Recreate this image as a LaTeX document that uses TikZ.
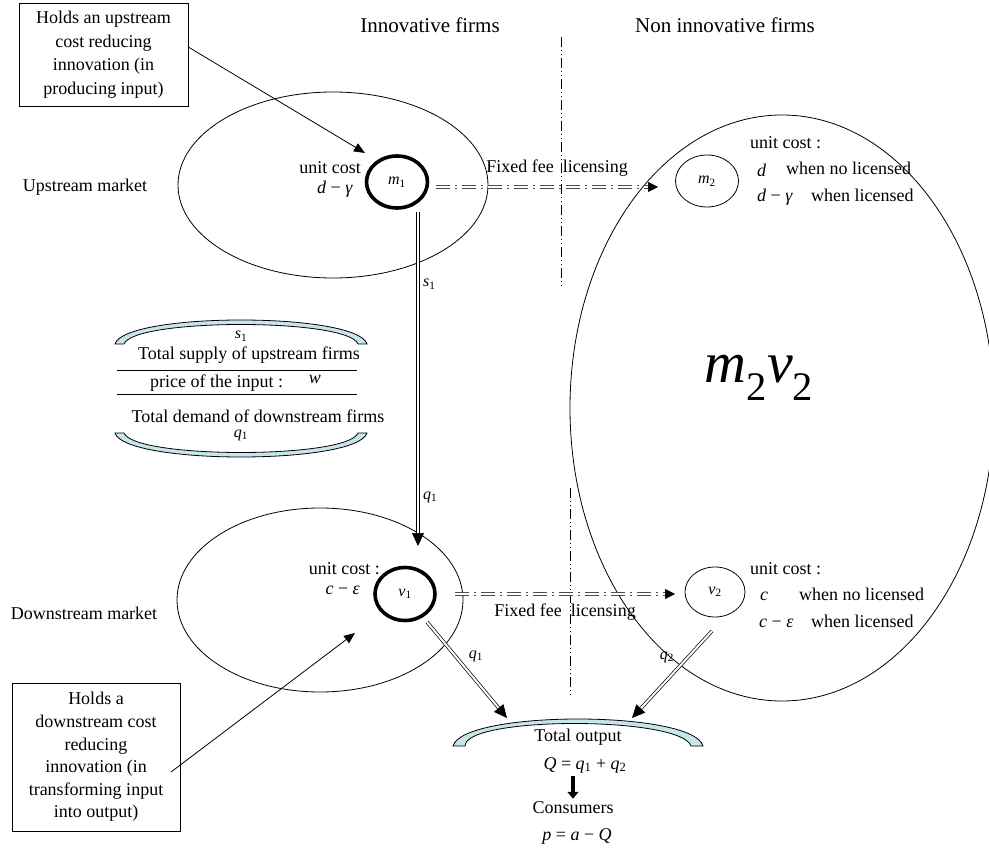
\documentclass[tikz,border=0pt]{standalone}
\usepackage{fontspec}
\setmainfont{Liberation Serif}
\usetikzlibrary{arrows.meta,calc,shapes.geometric}

\definecolor{bandfill}{RGB}{198,230,234}
\definecolor{licink}{gray}{0.3}

% italic variable and lowered index
\newcommand{\mv}[1]{\textit{#1}}
\newcommand{\lo}[1]{\textsubscript{#1}}

\begin{document}
\begin{tikzpicture}[x=1pt,y=-1pt,
  every node/.style={font=\fontsize{18}{22}\selectfont, inner sep=0pt},
  title/.style={font=\fontsize{21}{24}\selectfont},
  small/.style={font=\fontsize{16}{18}\selectfont},
  market/.style={draw, ellipse, line width=0.8pt},
  firm/.style={draw, ellipse, line width=0.8pt},
  innofirm/.style={draw, ellipse, line width=3.6pt},
  notebox/.style={draw, line width=0.8pt, align=center,
                  font=\fontsize{18}{23.5}\selectfont},
  pointer/.style={line width=0.8pt, -{Triangle[length=11pt,width=9pt]}},
  flowline/.style={double, double distance=2pt, line width=0.7pt},
  licline/.style={double, double distance=2pt, line width=0.7pt, draw=licink,
                  dash pattern=on 14pt off 5pt on 2pt off 5pt},
  headtip/.style={-{Triangle[length=13pt,width=12pt]}, line width=0.7pt},
  smalltip/.style={-{Triangle[length=10pt,width=10pt]}, line width=0.7pt},
  divider/.style={line width=0.6pt,
                  dash pattern=on 10pt off 3pt on 1pt off 3pt on 1pt off 3pt},
  band/.style={draw, fill=bandfill, line width=0.8pt},
  bigdown/.style={line width=3.5pt, -{Triangle[length=7pt,width=11pt]}},
]
\useasboundingbox (0,0) rectangle (989,850);

% ---------- column titles and dividers ----------
\node[title] (tInno) at (430,25) {Innovative firms};
\node[title] (tNon)  at (725,25) {Non innovative firms};
\coordinate (dvA1) at (561,37);  \coordinate (dvA2) at (561,288);
\coordinate (dvB1) at (570,488); \coordinate (dvB2) at (570,697);
\draw[divider] (dvA1) -- (dvA2);
\draw[divider] (dvB1) -- (dvB2);

% ---------- markets ----------
\node[market, minimum width=310pt, minimum height=186pt] (up)   at (333,185) {};
\node[market, minimum width=286pt, minimum height=184pt] (down) at (320,600) {};
\node[market, minimum width=424pt, minimum height=586pt] (nonInno) at (782,408) {};
\node (lblUp)   at (85,187) {Upstream market};
\node (lblDown) at (84,613) {Downstream market};
\node (mv) at (759,378) {\fontsize{58}{60}\selectfont\mv{m}\lo{2}\mv{v}\lo{2}};

% ---------- firms ----------
\node[innofirm, minimum width=61pt, minimum height=52pt, small] (m1) at (397,182) {\mv{m}\lo{1}};
\node[firm, minimum width=63pt, minimum height=52pt, small]     (m2) at (707,181) {\mv{m}\lo{2}};
\node[innofirm, minimum width=60pt, minimum height=53pt, small] (v1) at (405,594) {\mv{v}\lo{1}};
\node[firm, minimum width=60pt, minimum height=50pt, small]     (v2) at (715,592) {\mv{v}\lo{2}};

% ---------- unit costs ----------
\node[anchor=east] (ucM1) at (361,168) {unit cost};
\node[anchor=east] (dgM1) at (353,189) {\mv{d} − \mv{γ}};
\node[anchor=west] (ucM2) at (750,143) {unit cost :};
\node[anchor=west] (dM2)  at (757,170) {\mv{d}};
\node[anchor=west] (nlM2) at (786,168) {when no licensed};
\node[anchor=west] (dgM2) at (757,197) {\mv{d} − \mv{γ}};
\node[anchor=west] (lM2)  at (811,195) {when licensed};

\node[anchor=east] (ucV1) at (380,569) {unit cost :};
\node[anchor=east] (ceV1) at (360,590) {\mv{c} − \mv{ε}};
\node[anchor=west] (ucV2) at (750,569) {unit cost :};
\node[anchor=west] (cV2)  at (760,596) {\mv{c}};
\node[anchor=west] (nlV2) at (799,594) {when no licensed};
\node[anchor=west] (ceV2) at (759,623) {\mv{c} − \mv{ε}};
\node[anchor=west] (lV2)  at (811,621) {when licensed};

% ---------- licensing flows ----------
\coordinate (licU1) at (436,187); \coordinate (licU2) at (658,187);
\coordinate (licD1) at (455,594); \coordinate (licD2) at (675,594);
\draw[licline, shorten >=9pt] (licU1) -- (licU2);
\draw[smalltip] ($(licU2)!10pt!(licU1)$) -- (licU2);
\draw[licline, shorten >=9pt] (licD1) -- (licD2);
\draw[smalltip] ($(licD2)!10pt!(licD1)$) -- (licD2);
\node (feeU) at (557,168) {Fixed fee\ \ licensing};
\node (feeD) at (565,612) {Fixed fee\ \ licensing};

% ---------- input flow from m1 to v1 ----------
\coordinate (sTop) at (418,212); \coordinate (sBot) at (418,546);
\draw[flowline, shorten >=12pt] (sTop) -- (sBot);
\draw[headtip] ($(sBot)!13pt!(sTop)$) -- (sBot);
\node[anchor=west, small] (sLbl) at (423,284) {\mv{s}\lo{1}};
\node[anchor=west, small] (qLbl) at (423,497) {\mv{q}\lo{1}};

% ---------- output flows ----------
\coordinate (q1a) at (427,622); \coordinate (q1b) at (507,718);
\coordinate (q2a) at (712,631); \coordinate (q2b) at (632,718);
\draw[flowline, shorten >=12pt] (q1a) -- (q1b);
\draw[headtip] ($(q1b)!13pt!(q1a)$) -- (q1b);
\draw[flowline, shorten >=12pt] (q2a) -- (q2b);
\draw[headtip] ($(q2b)!13pt!(q2a)$) -- (q2b);
\node[small] (q1Lbl) at (476,656) {\mv{q}\lo{1}};
\node[small] (q2Lbl) at (667,657) {\mv{q}\lo{2}};

% ---------- input market equilibrium ----------
\filldraw[band] (115,344) .. controls (125,312) and (357,312) .. (367,344)
  -- (358,344) .. controls (348,318) and (134,318) .. (124,344) -- cycle;
\filldraw[band] (115,433) .. controls (125,465) and (357,465) .. (367,433)
  -- (358,433) .. controls (348,459) and (134,459) .. (124,433) -- cycle;
\node[small] (s1Eq) at (241,336) {\mv{s}\lo{1}};
\node (supply) at (249,355) {Total supply of upstream firms};
\coordinate (rl1a) at (117,370); \coordinate (rl1b) at (357,370);
\coordinate (rl2a) at (117,394); \coordinate (rl2b) at (357,394);
\draw[line width=0.8pt] (rl1a) -- (rl1b);
\draw[line width=0.8pt] (rl2a) -- (rl2b);
\node[anchor=west] (price) at (150,383) {price of the input :};
\node (wLbl) at (315,379) {\mv{w}};
\node (demand) at (258,416) {Total demand of downstream firms};
\node[small] (q1Eq) at (241,435) {\mv{q}\lo{1}};

% ---------- total output and consumers ----------
\filldraw[band] (453,746) .. controls (463,710) and (693,710) .. (703,746)
  -- (691,746) .. controls (681,716) and (465,716) .. (465,746) -- cycle;
\node (tot)  at (578,737) {Total output};
\node (Qeq)  at (585,765) {\mv{Q} = \mv{q}\lo{1} + \mv{q}\lo{2}};
\node (cons) at (573,808) {Consumers};
\node (peq)  at (577,836) {\mv{p} = \mv{a} − \mv{Q}};
\draw[bigdown, shorten <=3pt, shorten >=3pt] (Qeq.south -| cons.north) -- (cons.north);

% ---------- innovation notes ----------
\node[notebox, minimum width=169pt, minimum height=103pt] (box1) at (103.5,54.5)
  {Holds an upstream\\cost reducing\\innovation (in\\producing input)};
\node[notebox, minimum width=168pt, minimum height=148pt,
      font=\fontsize{18}{22.6}\selectfont] (box2) at (96,757)
  {Holds a\\downstream cost\\reducing\\innovation (in\\transforming input\\into output)};
\coordinate (tipA) at (365,153);
\coordinate (tailB) at (171,772); \coordinate (tipB) at (355,633);
\draw[pointer] (box1.5) -- (tipA);
\draw[pointer] (tailB) -- (tipB);
\end{tikzpicture}
\end{document}
